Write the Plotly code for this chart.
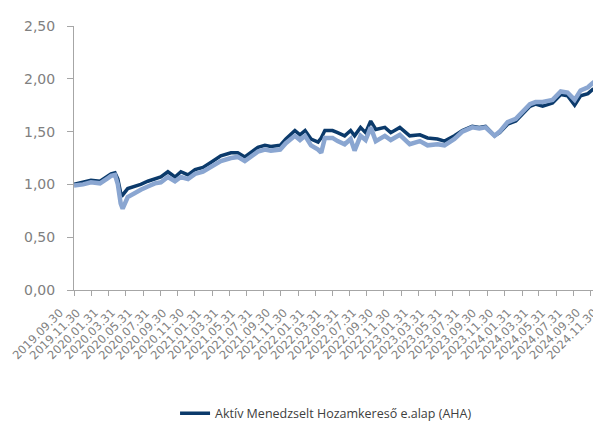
import plotly.graph_objects as go

# ---- data ----
dates = [
    "2019-09-30", "2019-11-01", "2019-11-29", "2019-12-31", "2020-01-28", "2020-02-08",
    "2020-02-22", "2020-03-03", "2020-03-13", "2020-03-20", "2020-04-07", "2020-05-02",
    "2020-05-23", "2020-06-17", "2020-07-12", "2020-08-02", "2020-08-27", "2020-09-21",
    "2020-10-12", "2020-11-06", "2020-12-01", "2020-12-29", "2021-01-27", "2021-03-02",
    "2021-04-07", "2021-05-01", "2021-05-26", "2021-06-16", "2021-07-11", "2021-08-05",
    "2021-08-26", "2021-09-28", "2021-10-18", "2021-11-19", "2021-12-07", "2021-12-25",
    "2022-01-15", "2022-02-09", "2022-02-20", "2022-03-05", "2022-04-01", "2022-04-19",
    "2022-05-14", "2022-06-04", "2022-06-18", "2022-07-09", "2022-07-27", "2022-08-14",
    "2022-09-01", "2022-10-03", "2022-10-24", "2022-11-25", "2022-12-16", "2022-12-30",
    "2023-02-04", "2023-03-03", "2023-04-07", "2023-05-02", "2023-06-06", "2023-07-04",
    "2023-08-08", "2023-09-02", "2023-09-24", "2023-10-26", "2023-11-13", "2023-12-11",
    "2024-01-09", "2024-02-03", "2024-02-28", "2024-03-19", "2024-04-13", "2024-05-18",
    "2024-06-16", "2024-07-10", "2024-08-04", "2024-08-25", "2024-09-20", "2024-10-07",
    "2024-11-01",
]

aha = [
    1.00, 1.02, 1.04, 1.03, 1.08, 1.10,
    1.11, 1.05, 0.92, 0.90, 0.96, 0.98,
    1.00, 1.03, 1.05, 1.07, 1.12, 1.07,
    1.12, 1.09, 1.14, 1.16, 1.21, 1.27,
    1.30, 1.30, 1.26, 1.30, 1.35, 1.37,
    1.36, 1.37, 1.43, 1.51, 1.47, 1.51,
    1.43, 1.40, 1.44, 1.51, 1.51, 1.49,
    1.46, 1.51, 1.46, 1.54, 1.49, 1.60,
    1.52, 1.54, 1.49, 1.54, 1.49, 1.46,
    1.47, 1.44, 1.43, 1.41, 1.46, 1.51,
    1.55, 1.54, 1.55, 1.46, 1.49, 1.57,
    1.60, 1.67, 1.74, 1.76, 1.74, 1.77,
    1.85, 1.84, 1.75, 1.84, 1.86, 1.90,
    1.91,
]

benchmark = [
    0.99, 1.00, 1.02, 1.01, 1.06, 1.08,
    1.09, 1.00, 0.82, 0.77, 0.88, 0.92,
    0.95, 0.98, 1.01, 1.02, 1.07, 1.03,
    1.07, 1.05, 1.10, 1.12, 1.17, 1.22,
    1.25, 1.26, 1.22, 1.26, 1.31, 1.33,
    1.32, 1.33, 1.39, 1.46, 1.42, 1.46,
    1.37, 1.33, 1.30, 1.44, 1.44, 1.41,
    1.38, 1.43, 1.32, 1.46, 1.42, 1.54,
    1.41, 1.46, 1.42, 1.47, 1.42, 1.38,
    1.41, 1.37, 1.38, 1.37, 1.43, 1.50,
    1.54, 1.53, 1.54, 1.46, 1.50, 1.59,
    1.62, 1.69, 1.76, 1.78, 1.78, 1.80,
    1.88, 1.87, 1.80, 1.89, 1.92, 1.96,
    2.01,
]

tick_dates = [
    "2019-09-30", "2019-11-30", "2020-01-31", "2020-03-31", "2020-05-31", "2020-07-31",
    "2020-09-30", "2020-11-30", "2021-01-31", "2021-03-31", "2021-05-31", "2021-07-31",
    "2021-09-30", "2021-11-30", "2022-01-31", "2022-03-31", "2022-05-31", "2022-07-31",
    "2022-09-30", "2022-11-30", "2023-01-31", "2023-03-31", "2023-05-31", "2023-07-31",
    "2023-09-30", "2023-11-30", "2024-01-31", "2024-03-31", "2024-05-31", "2024-07-31",
    "2024-09-30", "2024-11-30",
]
tick_labels = [
    "2019.09.30", "2019.11.30", "2020.01.31", "2020.03.31", "2020.05.31", "2020.07.31",
    "2020.09.30", "2020.11.30", "2021.01.31", "2021.03.31", "2021.05.31", "2021.07.31",
    "2021.09.30", "2021.11.30", "2022.01.31", "2022.03.31", "2022.05.31", "2022.07.31",
    "2022.09.30", "2022.11.30", "2023.01.31", "2023.03.31", "2023.05.31", "2023.07.31",
    "2023.09.30", "2023.11.30", "2024.01.31", "2024.03.31", "2024.05.31", "2024.07.31",
    "2024.09.30", "2024.11.30",
]

y_ticks = [0, 0.5, 1.0, 1.5, 2.0, 2.5]
y_labels = ["0,00", "0,50", "1,00", "1,50", "2,00", "2,50"]

series_name = "Aktív Menedzselt Hozamkereső e.alap (AHA)"

# ---- figure ----
fig = go.Figure()
fig.add_trace(go.Scatter(
    x=dates, y=aha, mode="lines", name=series_name,
    line=dict(color="#0b3a6b", width=3.5),
))
fig.add_trace(go.Scatter(
    x=dates, y=benchmark, mode="lines", name="Benchmark", showlegend=False,
    line=dict(color="#8aa6d1", width=4.5),
))

axis_gray = "#a6a6a6"
label_gray = "#808080"
y_tick_font = dict(family="DejaVu Sans", size=14, color=label_gray)
x_tick_font = dict(family="DejaVu Sans", size=11.5, color=label_gray)

# rotated x tick labels, placed at the axis' own tick dates
for d, t in zip(tick_dates, tick_labels):
    fig.add_annotation(
        x=d, y=0, xref="x", yref="paper",
        text=t, showarrow=False, textangle=-45,
        xanchor="right", yanchor="top",
        xshift=-5, yshift=-13,
        font=x_tick_font,
    )

fig.update_layout(
    width=601, height=422,
    margin=dict(l=66, r=1, t=18, b=135),
    paper_bgcolor="white", plot_bgcolor="white",
    showlegend=True,
    legend=dict(
        orientation="h", x=0.472, xanchor="center", y=-0.468, yanchor="middle",
        font=dict(family="Open Sans", size=12.5, color="#404040"),
        bgcolor="rgba(0,0,0,0)",
    ),
    xaxis=dict(
        type="date",
        range=["2019-09-30", "2024-11-30"],
        tickmode="array", tickvals=tick_dates, ticktext=tick_labels,
        showticklabels=False,
        showgrid=False, zeroline=False,
        showline=True, linecolor=axis_gray, linewidth=1,
        ticks="outside", ticklen=5, tickcolor=axis_gray,
    ),
    yaxis=dict(
        range=[0, 2.5],
        tickmode="array", tickvals=y_ticks, ticktext=y_labels,
        tickfont=y_tick_font,
        showgrid=False, zeroline=False,
        showline=True, linecolor=axis_gray, linewidth=1,
        ticks="outside", ticklen=6, tickcolor=axis_gray,
        ticklabelstandoff=9,
    ),
)

fig.write_html("out.html")
